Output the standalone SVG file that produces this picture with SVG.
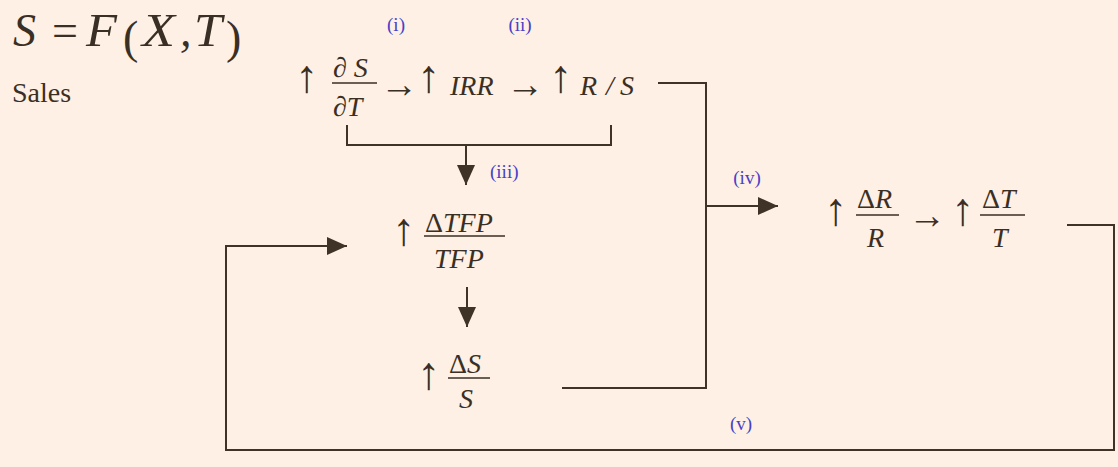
<svg xmlns="http://www.w3.org/2000/svg" width="1118" height="467" viewBox="0 0 1118 467">
<defs>
<style>
text{font-family:'Liberation Serif','Times New Roman','DejaVu Serif',serif}
.m{font-style:italic;font-size:28px;fill:#3A2F25}
.u{font-size:28px;fill:#3A2F25}
.ar{font-size:46px;fill:#3A2F25}
.rt{font-size:38px;fill:#3A2F25}
.t{font-size:46px;fill:#3A2F25}
.lb{font-size:19px;fill:#4840C8}
.fl{stroke:#3A2F25;stroke-width:1.4}
.c{fill:none;stroke:#3F3328;stroke-width:2}
</style>
<marker id="ah" viewBox="0 0 20 18" refX="20" refY="9" markerWidth="20" markerHeight="18" markerUnits="userSpaceOnUse" orient="auto">
<path d="M0,0 L20,9 L0,18 z" fill="#3F3328"/>
</marker>
</defs>
<rect width="1118" height="467" fill="#FEF0E4"/>

<g id="title">
<text class="t" x="13" y="46" font-style="italic">S</text>
<text class="t" x="52" y="46">=</text>
<text class="t" x="86" y="46" font-style="italic" textLength="31" lengthAdjust="spacingAndGlyphs">F</text>
<text class="t" x="123" y="53" font-size="64px">(</text>
<text class="t" x="142" y="46" font-style="italic" textLength="33" lengthAdjust="spacingAndGlyphs">X</text>
<text class="t" x="180" y="46" font-style="italic">,</text>
<text class="t" x="194" y="46" font-style="italic" textLength="28" lengthAdjust="spacingAndGlyphs">T</text>
<text class="t" x="226" y="53" font-size="64px">)</text>
<text class="u" x="12" y="102" font-size="34px">Sales</text>
</g>

<g id="row1">
<text class="ar" x="295" y="92">↑</text>
<text class="m" x="333" y="77">∂ S</text>
<line class="fl" x1="332" y1="83" x2="377" y2="83"/>
<text class="m" x="333" y="116">∂T</text>
<text class="rt" x="380" y="97">→</text>
<text class="ar" x="417" y="92">↑</text>
<text class="m" x="450" y="95">IRR</text>
<text class="rt" x="506" y="97">→</text>
<text class="ar" x="549" y="92">↑</text>
<text class="m" x="580" y="95">R</text>
<text class="m" x="606" y="95">/</text>
<text class="m" x="620" y="95">S</text>
</g>

<g id="tfp">
<text class="ar" x="392" y="245">↑</text>
<text class="m" x="425" y="232"><tspan font-style="normal">Δ</tspan>TFP</text>
<line class="fl" x1="424" y1="236" x2="505" y2="236"/>
<text class="m" x="434" y="268">TFP</text>
</g>

<g id="ds">
<text class="ar" x="417" y="389">↑</text>
<text class="m" x="449" y="373"><tspan font-style="normal">Δ</tspan>S</text>
<line class="fl" x1="448" y1="378" x2="490" y2="378"/>
<text class="m" x="459" y="408">S</text>
</g>

<g id="drt">
<text class="ar" x="824" y="225">↑</text>
<text class="m" x="857" y="208"><tspan font-style="normal">Δ</tspan>R</text>
<line class="fl" x1="856" y1="215" x2="899" y2="215"/>
<text class="m" x="867" y="247">R</text>
<text class="rt" x="908" y="228">→</text>
<text class="ar" x="951" y="225">↑</text>
<text class="m" x="982" y="208"><tspan font-style="normal">Δ</tspan>T</text>
<line class="fl" x1="980" y1="215" x2="1025" y2="215"/>
<text class="m" x="992" y="247">T</text>
</g>

<g id="labels">
<text class="lb" x="396" y="31" text-anchor="middle">(i)</text>
<text class="lb" x="520" y="31" text-anchor="middle">(ii)</text>
<text class="lb" x="490" y="178" font-size="18px">(iii)</text>
<text class="lb" x="747" y="184" text-anchor="middle">(iv)</text>
<text class="lb" x="741" y="430" text-anchor="middle">(v)</text>
</g>

<g id="connectors">
<path class="c" d="M347,125 V145 H611 V125"/>
<path class="c" d="M466,145 V185" marker-end="url(#ah)"/>
<path class="c" d="M658,83 H706 V388 H562"/>
<path class="c" d="M706,206 H778" marker-end="url(#ah)"/>
<path class="c" d="M467,287 V327" marker-end="url(#ah)"/>
<path class="c" d="M1067,225 H1114 V450 H226 V246 H347" marker-end="url(#ah)"/>
</g>
</svg>
